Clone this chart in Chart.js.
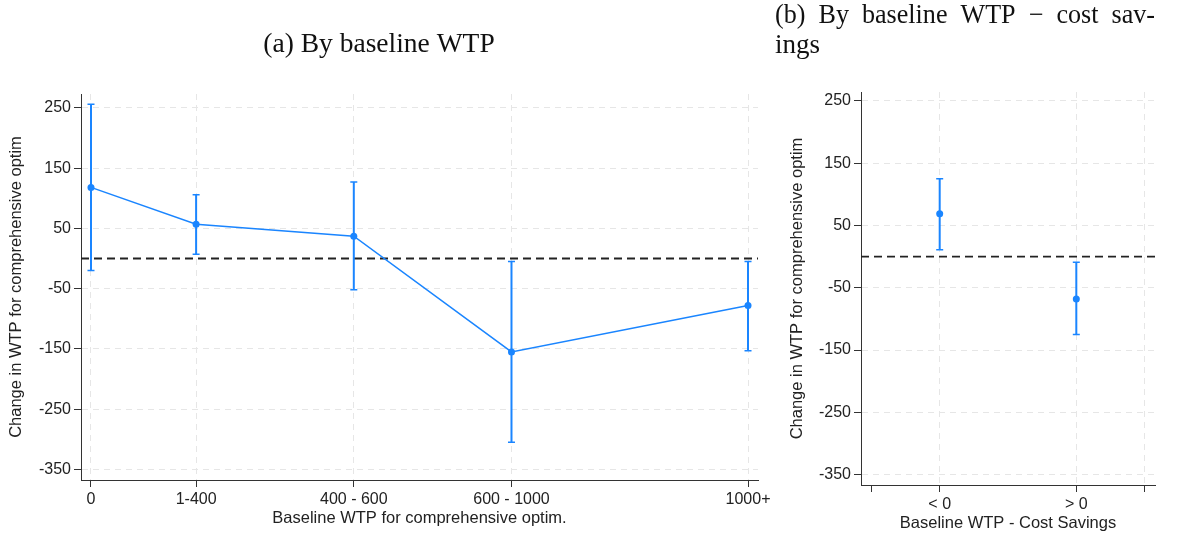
<!DOCTYPE html>
<html>
<head>
<meta charset="utf-8">
<script src="https://cdn.jsdelivr.net/npm/chart.js@4"></script>
<style>
  html, body { margin: 0; padding: 0; background: #fff; }
  #wrap { position: relative; width: 1179px; height: 538px; }
  #chartA { position: absolute; left: 0; top: 0; }
  #chartB { position: absolute; left: 775px; top: 0; }
</style>
</head>
<body>
<div id="wrap">
  <canvas id="chartA" width="775" height="538"></canvas>
  <canvas id="chartB" width="404" height="538"></canvas>
</div>
<script>
// panel (a): by baseline WTP
const groupsA = ['0', '1-400', '400 - 600', '600 - 1000', '1000+'];
const posA = [0, 200, 500, 800, 1250];
const estA = [118, 57, 37, -155, -78];
const lowA = [-20, 7, -52, -305, -153];
const highA = [256, 106, 127, -5, -5];

// panel (b): by baseline WTP - cost savings
const groupsB = ['< 0', '> 0'];
const posB = [1, 2];
const tickPosB = [0.5, 1, 2, 2.5];
const estB = [69, -68];
const lowB = [11, -125];
const highB = [125, -9];

const yTicks = [250, 150, 50, -50, -150, -250, -350];
const refLine = 0;

const blue = '#1a85ff';
const gridCol = '#e6e6e6';
const axisCol = '#333';
const sans = "'Liberation Sans', Arial, sans-serif";
const serif = "'Liberation Serif', 'DejaVu Serif', serif";

// zero line + error bars, placed with the chart's own scales
const errorBars = {
  id: 'errorBars',
  beforeDatasetsDraw(chart, args, opts) {
    const { ctx, chartArea, scales: { x, y } } = chart;
    ctx.save();
    ctx.strokeStyle = '#222';
    ctx.lineWidth = 1.8;
    ctx.setLineDash([8, 5]);
    const y0 = y.getPixelForValue(refLine);
    ctx.beginPath();
    ctx.moveTo(chartArea.left, y0);
    ctx.lineTo(chartArea.right, y0);
    ctx.stroke();
    ctx.setLineDash([]);

    ctx.strokeStyle = blue;
    opts.pos.forEach((v, i) => {
      const px = x.getPixelForValue(v);
      const lo = y.getPixelForValue(opts.low[i]);
      const hi = y.getPixelForValue(opts.high[i]);
      ctx.lineWidth = 2;
      ctx.beginPath();
      ctx.moveTo(px, lo);
      ctx.lineTo(px, hi);
      ctx.stroke();
      ctx.lineWidth = 1.5;
      ctx.beginPath();
      ctx.moveTo(px - 3.5, lo); ctx.lineTo(px + 3.5, lo);
      ctx.moveTo(px - 3.5, hi); ctx.lineTo(px + 3.5, hi);
      ctx.stroke();
    });
    ctx.restore();
  }
};

function yAxis(min, max, width, titlePad) {
  return {
    type: 'linear',
    min: min,
    max: max,
    afterBuildTicks: s => { s.ticks = yTicks.map(v => ({ value: v })); },
    afterFit: s => { s.width = width; s.paddingTop = 0; s.paddingBottom = 0; },
    ticks: { font: { family: sans, size: 16 }, color: '#222', padding: 3, callback: v => String(v) },
    grid: { color: gridCol, lineWidth: 1, tickLength: 7, tickColor: axisCol, tickWidth: 1 },
    border: { color: axisCol, width: 1, dash: [6, 5] },
    title: {
      display: true,
      text: 'Change in WTP for comprehensive optim',
      font: { family: sans, size: 16.5 },
      color: '#222',
      padding: { top: titlePad, bottom: 0 }
    }
  };
}

function xAxis(min, max, height, ticksAt, labelFor, gridColor, title, titlePad) {
  return {
    type: 'linear',
    min: min,
    max: max,
    afterBuildTicks: s => { s.ticks = ticksAt.map(v => ({ value: v })); },
    afterFit: s => { s.height = height; s.paddingLeft = 0; s.paddingRight = 0; },
    ticks: {
      font: { family: sans, size: 16 }, color: '#222', padding: 3,
      autoSkip: false, maxRotation: 0, callback: labelFor
    },
    grid: { color: gridColor, lineWidth: 1, tickLength: 7, tickColor: axisCol, tickWidth: 1 },
    border: { color: axisCol, width: 1, dash: [6, 5] },
    title: {
      display: true,
      text: title,
      font: { family: sans, size: 16.5 },
      color: '#222',
      padding: { top: 0, bottom: titlePad }
    }
  };
}

new Chart(document.getElementById('chartA').getContext('2d'), {
  type: 'line',
  data: {
    datasets: [{
      data: posA.map((v, i) => ({ x: v, y: estA[i] })),
      borderColor: blue,
      backgroundColor: blue,
      borderWidth: 1.5,
      pointRadius: 3.5,
      pointBorderWidth: 0,
      pointBackgroundColor: blue
    }]
  },
  options: {
    responsive: false,
    animation: false,
    layout: { padding: { left: 0, right: 17, top: 0, bottom: 0 } },
    plugins: {
      legend: { display: false },
      tooltip: { enabled: false },
      title: {
        display: true,
        text: '(a) By baseline WTP',
        font: { family: serif, size: 27.5, weight: 'normal' },
        color: '#111',
        padding: { top: 28, bottom: 33 }
      },
      errorBars: { pos: posA, low: lowA, high: highA }
    },
    scales: {
      x: xAxis(-19, 1269, 58, posA, v => groupsA[posA.indexOf(v)], gridCol,
               'Baseline WTP for comprehensive optim.', 10),
      y: yAxis(-367.5, 273, 81, 7)
    }
  },
  plugins: [errorBars]
});

new Chart(document.getElementById('chartB').getContext('2d'), {
  type: 'scatter',
  data: {
    datasets: [{
      data: posB.map((v, i) => ({ x: v, y: estB[i] })),
      showLine: false,
      borderColor: blue,
      backgroundColor: blue,
      pointRadius: 3.5,
      pointBorderWidth: 0,
      pointBackgroundColor: blue
    }]
  },
  options: {
    responsive: false,
    animation: false,
    layout: { padding: { left: 0, right: 24, top: 0, bottom: 0 } },
    plugins: {
      legend: { display: false },
      tooltip: { enabled: false },
      title: {
        display: true,
        align: 'start',
        text: ['(b)\u2002By\u2002baseline\u2002WTP\u2002\u2212\u2002cost\u2002sav-', 'ings'],
        font: { family: serif, size: 27, weight: 'normal', lineHeight: 30 / 27 },
        color: '#111',
        padding: { top: 1, bottom: 31 }
      },
      errorBars: { pos: posB, low: lowB, high: highB }
    },
    scales: {
      x: xAxis(0.424, 2.576, 53, tickPosB,
               v => { const i = posB.indexOf(v); return i >= 0 ? groupsB[i] : ''; },
               c => (c.tick && c.tick.value === tickPosB[0]) ? 'rgba(0,0,0,0)' : gridCol,
               'Baseline WTP - Cost Savings', 5),
      y: yAxis(-366.8, 264.4, 86, 13)
    }
  },
  plugins: [errorBars]
});
</script>
</body>
</html>
